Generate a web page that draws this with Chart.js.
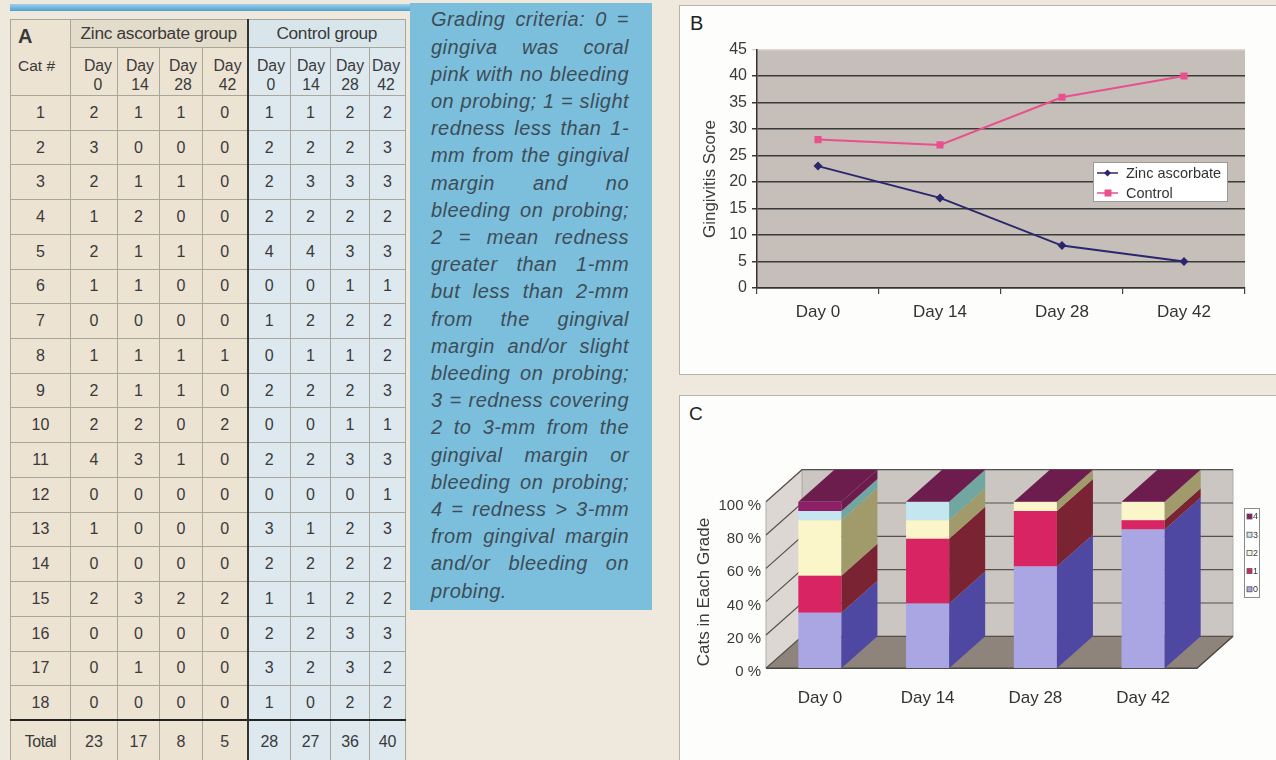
<!DOCTYPE html>
<html><head><meta charset="utf-8">
<script src="https://cdn.jsdelivr.net/npm/chart.js@4.4.1/dist/chart.umd.min.js"></script>
<style>
html,body{margin:0;padding:0;}
body{width:1276px;height:760px;overflow:hidden;background:#efe8dc;position:relative;font-family:"Liberation Sans",Arial,sans-serif;}
#stripe{position:absolute;left:10px;top:4px;width:402px;height:7px;background:linear-gradient(#9fd0ea,#4f9fcd);}
#tbl{position:absolute;left:10px;top:19px;border-collapse:collapse;table-layout:fixed;width:395px;color:#3a3a3a;font-size:16px;}
#tbl td{border:1px solid #a9a69c;text-align:center;padding:0;background:#ece3d3;}
#tbl td.c{background:#dde9ef;}
#tbl td.c0{border-left:2px solid #333;}
#tbl tr.tot td{border-top:2px solid #222;}
#tbl td.hz{background:#e4dccb;font-size:17.3px;letter-spacing:-0.3px;}
#tbl td.hc{background:#d8e6ec;font-size:17.3px;letter-spacing:-0.3px;}
#tbl td.day{vertical-align:top;text-align:right;padding:8px 5px 0 0;line-height:19px;font-size:15.8px;}
#tbl td.day span{display:inline-block;text-align:center;}
#crit{position:absolute;left:410px;top:3px;width:242px;height:607px;background:#7cbfdc;box-sizing:border-box;padding:3.4px 23px 0 21px;color:#3d4d58;font-style:italic;font-size:20px;letter-spacing:0.45px;}
#crit div{line-height:27.2px;text-align:justify;text-align-last:justify;white-space:nowrap;}
#crit div.last{text-align-last:left;}
.panel{position:absolute;left:679px;width:620px;height:370px;background:#fdfdfb;border:1px solid #b5b3ad;box-sizing:border-box;}
.plab{position:absolute;color:#222;}
canvas{position:absolute;}
</style></head>
<body>
<div id="stripe"></div>
<table id="tbl"><colgroup>
<col style="width:60px"><col style="width:47px"><col style="width:42px"><col style="width:43px"><col style="width:45px"><col style="width:43px"><col style="width:40px"><col style="width:39px"><col style="width:36px">
</colgroup><tbody id="tbody"></tbody></table>

<div id="crit"></div>

<div class="panel" style="top:5px;"></div>
<div class="plab" style="left:690px;top:12px;font-size:20px;">B</div>
<div class="panel" style="top:395px;"></div>
<div class="plab" style="left:689px;top:403px;font-size:19px;">C</div>

<canvas id="chartB" width="599" height="370" style="left:677px;top:5px;width:599px;height:370px;"></canvas>
<canvas id="chartC" width="599" height="367" style="left:677px;top:393px;width:599px;height:367px;"></canvas>

<script>
// ---------- Table A data ----------
const catIds = [1,2,3,4,5,6,7,8,9,10,11,12,13,14,15,16,17,18];
const zincDay0  = [2,3,2,1,2,1,0,1,2,2,4,0,1,0,2,0,0,0];
const zincDay14 = [1,0,1,2,1,1,0,1,1,2,3,0,0,0,3,0,1,0];
const zincDay28 = [1,0,1,0,1,0,0,1,1,0,1,0,0,0,2,0,0,0];
const zincDay42 = [0,0,0,0,0,0,0,1,0,2,0,0,0,0,2,0,0,0];
const ctrlDay0  = [1,2,2,2,4,0,1,0,2,0,2,0,3,2,1,2,3,1];
const ctrlDay14 = [1,2,3,2,4,0,2,1,2,0,2,0,1,2,1,2,2,0];
const ctrlDay28 = [2,2,3,2,3,1,2,1,2,1,3,0,2,2,2,3,3,2];
const ctrlDay42 = [2,3,3,2,3,1,2,2,3,1,3,1,3,2,2,3,2,2];
const dayNums = ['0','14','28','42'];

// ---------- Chart B data ----------
const days = ['Day 0','Day 14','Day 28','Day 42'];
const seriesNames = ['Zinc ascorbate','Control'];
const zincTotals = [23,17,8,5];
const controlTotals = [28,27,36,40];

// ---------- Chart C data (% of cats in each grade, zinc group) ----------
const gradeNames = ['0','1','2','3','4'];
const grade0Pct = [33.3,38.9,61.1,83.3];
const grade1Pct = [22.2,38.9,33.3,5.6];
const grade2Pct = [33.3,11.1,5.6,11.1];
const grade3Pct = [5.6,11.1,0,0];
const grade4Pct = [5.6,0,0,0];
const pctTicks = [0,20,40,60,80,100];

const critLines = ["Grading criteria: 0 =","gingiva was coral","pink with no bleeding","on probing; 1 = slight","redness less than 1-","mm from the gingival","margin and no","bleeding on probing;","2 = mean redness","greater than 1-mm","but less than 2-mm","from the gingival","margin and/or slight","bleeding on probing;","3 = redness covering","2 to 3-mm from the","gingival margin or","bleeding on probing;","4 = redness > 3-mm","from gingival margin","and/or bleeding on","probing."];

// ----- build table -----
(function(){
  const tb = document.getElementById('tbody');
  let h = '<tr style="height:28px"><td rowspan="2" style="vertical-align:top;text-align:left;padding-left:7px;">'+
    '<div style="font-weight:bold;font-size:20px;line-height:24px;margin-top:4px;">A</div>'+
    '<div style="font-size:15.5px;line-height:18px;margin-top:9px;">Cat #</div></td>'+
    '<td colspan="4" class="hz">Zinc ascorbate group</td><td colspan="4" class="hc c c0">Control group</td></tr>';
  h += '<tr style="height:48px">';
  dayNums.forEach(d=>{ h += '<td class="day"><span>Day<br>'+d+'</span></td>'; });
  dayNums.forEach((d,i)=>{ h += '<td class="day c'+(i===0?' c0':'')+'"><span>Day<br>'+d+'</span></td>'; });
  h += '</tr>';
  const zc=[zincDay0,zincDay14,zincDay28,zincDay42], cc=[ctrlDay0,ctrlDay14,ctrlDay28,ctrlDay42];
  catIds.forEach((id,r)=>{
    h += '<tr style="height:34.72px"><td>'+id+'</td>';
    zc.forEach(a=>{ h += '<td>'+a[r]+'</td>'; });
    cc.forEach((a,i)=>{ h += '<td class="c'+(i===0?' c0':'')+'">'+a[r]+'</td>'; });
    h += '</tr>';
  });
  const sum=a=>a.reduce((s,v)=>s+v,0);
  h += '<tr class="tot" style="height:42px"><td style="letter-spacing:-0.5px">Total</td>';
  zc.forEach(a=>{ h += '<td>'+sum(a)+'</td>'; });
  cc.forEach((a,i)=>{ h += '<td class="c'+(i===0?' c0':'')+'">'+sum(a)+'</td>'; });
  h += '</tr>';
  tb.innerHTML = h;
  const cr = document.getElementById('crit');
  cr.innerHTML = critLines.map((l,i)=>'<div'+(i===critLines.length-1?' class="last"':'')+'>'+l.replace(/</g,'&lt;').replace(/>/g,'&gt;')+'</div>').join('');
})();

Chart.defaults.font.family = '"Liberation Sans", Arial, sans-serif';
Chart.defaults.color = '#3a3a3a';

// draws a rotated axis title at a given canvas position
function makeTitlePlugin(id, text, x, y, size){
  return { id, afterDraw(chart){
    const ctx = chart.ctx; ctx.save();
    ctx.translate(x, y); ctx.rotate(-Math.PI/2);
    ctx.font = size+'px "Liberation Sans", Arial, sans-serif';
    ctx.fillStyle = '#3a3a3a'; ctx.textAlign='center'; ctx.textBaseline='middle';
    ctx.fillText(text, 0, 0); ctx.restore();
  }};
}

// ----- Chart B -----
const plotBg = {
  id:'plotBg',
  beforeDraw(chart){
    const {ctx, chartArea:a} = chart;
    ctx.save(); ctx.fillStyle = '#c6bfb9'; ctx.fillRect(a.left, a.top, a.right-a.left, a.bottom-a.top); ctx.restore();
  }
};
const legendB = {
  id:'legendB',
  afterDraw(chart){
    const ctx = chart.ctx;
    const bx=416, by=157, bw=134, bh=39;
    ctx.save();
    ctx.fillStyle='#ffffff'; ctx.fillRect(bx,by,bw,bh);
    ctx.strokeStyle='#9a9a9a'; ctx.lineWidth=1; ctx.strokeRect(bx+0.5,by+0.5,bw,bh);
    chart.data.datasets.forEach((ds,i)=>{
      const cy = by + 11 + i*20;
      ctx.strokeStyle = ds.borderColor; ctx.lineWidth = 1.5;
      ctx.beginPath(); ctx.moveTo(bx+4, cy); ctx.lineTo(bx+25, cy); ctx.stroke();
      ctx.fillStyle = ds.backgroundColor;
      ctx.beginPath();
      if (ds.pointStyle==='rectRot'){ ctx.moveTo(bx+14.5,cy-3.5); ctx.lineTo(bx+18,cy); ctx.lineTo(bx+14.5,cy+3.5); ctx.lineTo(bx+11,cy); ctx.closePath(); }
      else { ctx.rect(bx+11.5, cy-3.5, 7, 7); }
      ctx.fill();
      ctx.fillStyle='#333'; ctx.font='14.5px "Liberation Sans", Arial, sans-serif'; ctx.textBaseline='middle'; ctx.textAlign='left';
      ctx.fillText(ds.label, bx+33, cy+1);
    });
    ctx.restore();
  }
};
new Chart(document.getElementById('chartB'), {
  type:'line',
  data:{labels:days, datasets:[
    {label:seriesNames[0], data:zincTotals, borderColor:'#2a276e', backgroundColor:'#2a276e', borderWidth:2, pointStyle:'rectRot', pointRadius:4.5, pointBorderWidth:0, tension:0},
    {label:seriesNames[1], data:controlTotals, borderColor:'#e8508e', backgroundColor:'#e8508e', borderWidth:2, pointStyle:'rect', pointRadius:5, pointBorderWidth:0, tension:0}
  ]},
  options:{
    responsive:false, animation:false, devicePixelRatio:1,
    layout:{padding:{left:0, top:44.5, right:31, bottom:0}},
    plugins:{legend:{display:false}, tooltip:{enabled:false}},
    scales:{
      x:{offset:true,
         grid:{offset:true, drawOnChartArea:false, drawTicks:true, tickLength:6, color:'#444', lineWidth:1.2},
         border:{color:'#333', width:1.5},
         ticks:{padding:8, color:'#333', font:{size:17}},
         afterFit(s){ s.height = 87; }},
      y:{min:0, max:45,
         ticks:{stepSize:5, padding:5, color:'#3a3a3a', font:{size:16}},
         grid:{color:(c)=> (c.tick && c.tick.value===45) ? '#dcd6d0' : '#3a3a3a', lineWidth:1.5, tickLength:5},
         border:{color:'#333', width:1.5},
         title:{display:false, text:'Gingivitis Score'},
         afterFit(s){ s.width = 80; }}
    }
  },
  plugins:[plotBg, legendB, makeTitlePlugin('titleB','Gingivitis Score', 33, 174, 17)]
});

// ----- Chart C (3D look stacked bars) -----
const DX = 36, DY = -32;
const frontCols = ['#aaa6e4','#d82462','#fbf6ca','#c4e6f0','#8d1f66'];
const sideCols  = ['#4f48a2','#7a2433','#a19a6b','#72a6a1','#6b1c4d'];
const topCol = '#6c1d4e';
function poly(ctx, pts, fill, stroke){
  ctx.beginPath(); ctx.moveTo(pts[0][0],pts[0][1]);
  for (let i=1;i<pts.length;i++) ctx.lineTo(pts[i][0],pts[i][1]);
  ctx.closePath();
  if (fill){ ctx.fillStyle=fill; ctx.fill(); }
  if (stroke){ ctx.strokeStyle=stroke; ctx.lineWidth=1; ctx.stroke(); }
}
const walls3d = {
  id:'walls3d',
  beforeDatasetsDraw(chart){
    const {ctx, chartArea:a, scales:{y}} = chart;
    ctx.save();
    poly(ctx, [[a.left+DX,a.top+DY],[a.right+DX,a.top+DY],[a.right+DX,a.bottom+DY],[a.left+DX,a.bottom+DY]], '#cbc6c1', '#b3aea8');
    poly(ctx, [[a.left,a.top],[a.left+DX,a.top+DY],[a.left+DX,a.bottom+DY],[a.left,a.bottom]], '#dcd7d2', '#b3aea8');
    poly(ctx, [[a.left,a.bottom],[a.right,a.bottom],[a.right+DX,a.bottom+DY],[a.left+DX,a.bottom+DY]], '#8e847b', null);
    ctx.strokeStyle='#55514c'; ctx.lineWidth=1.2;
    pctTicks.forEach(v=>{
      const py = y.getPixelForValue(v);
      ctx.beginPath(); ctx.moveTo(a.left,py); ctx.lineTo(a.left+DX,py+DY); ctx.lineTo(a.right+DX,py+DY); ctx.stroke();
    });
    ctx.strokeStyle='#4a4641'; ctx.lineWidth=1.5;
    ctx.beginPath(); ctx.moveTo(a.left,a.bottom); ctx.lineTo(a.right,a.bottom); ctx.lineTo(a.right+DX,a.bottom+DY); ctx.stroke();
    ctx.restore();
  },
  afterDatasetsDraw(chart){
    const ctx = chart.ctx;
    ctx.save();
    const n = chart.data.datasets.length;
    chart.data.datasets.forEach((ds,di)=>{
      const meta = chart.getDatasetMeta(di);
      meta.data.forEach(el=>{
        const {x, y, base, width} = el.getProps(['x','y','base','width'], true);
        const l = x - width/2, r = x + width/2;
        if (Math.abs(base - y) > 0.1){
          poly(ctx, [[r,y],[r+DX,y+DY],[r+DX,base+DY],[r,base]], sideCols[di], null);
        }
        if (di === n-1){
          poly(ctx, [[l,y],[r,y],[r+DX,y+DY],[l+DX,y+DY]], topCol, null);
        }
      });
    });
    ctx.restore();
  },
  afterDraw(chart){
    const ctx = chart.ctx;
    const bx=567.5, by=115.5, bw=15, bh=89;
    ctx.save();
    ctx.fillStyle='#ffffff'; ctx.fillRect(bx,by,bw,bh);
    ctx.strokeStyle='#8a8a8a'; ctx.lineWidth=1; ctx.strokeRect(bx,by,bw,bh);
    ctx.font='9px "Liberation Sans", Arial, sans-serif'; ctx.textBaseline='middle'; ctx.textAlign='left';
    const order = [4,3,2,1,0];
    order.forEach((g,i)=>{
      const cy = by + 8 + i*18.2;
      ctx.fillStyle = frontCols[g]; ctx.fillRect(bx+2.5, cy-2.5, 5, 5);
      ctx.strokeStyle='#555'; ctx.lineWidth=0.8; ctx.strokeRect(bx+2.5, cy-2.5, 5, 5);
      ctx.fillStyle='#333'; ctx.fillText(chart.data.datasets[g].label, bx+8.5, cy+0.5);
    });
    ctx.restore();
  }
};
const gradeData = [grade0Pct, grade1Pct, grade2Pct, grade3Pct, grade4Pct];
new Chart(document.getElementById('chartC'), {
  type:'bar',
  data:{labels:days, datasets: gradeNames.map((g,i)=>({label:g, data:gradeData[i], backgroundColor:frontCols[i], borderWidth:0, barPercentage:0.4, categoryPercentage:1}))},
  options:{
    responsive:false, animation:false, devicePixelRatio:1,
    layout:{padding:{left:0, top:108.7, right:79, bottom:0}},
    plugins:{legend:{display:false}, tooltip:{enabled:false}},
    scales:{
      x:{stacked:true, grid:{display:false, drawTicks:false}, border:{display:false},
         ticks:{padding:20, color:'#333', font:{size:17}},
         afterFit(s){ s.height = 91.7; }},
      y:{stacked:true, min:0, max:100,
         afterBuildTicks(s){ s.ticks = pctTicks.map(v=>({value:v})); },
         ticks:{callback:(v)=> v+' %', padding:5, labelOffset:4, color:'#3a3a3a', font:{size:15}},
         grid:{display:false, drawTicks:false}, border:{display:false},
         title:{display:false, text:'Cats in Each Grade'},
         afterFit(s){ s.width = 89; }}
    }
  },
  plugins:[walls3d, makeTitlePlugin('titleC','Cats in Each Grade', 27.5, 199, 17)]
});
</script>
</body></html>
